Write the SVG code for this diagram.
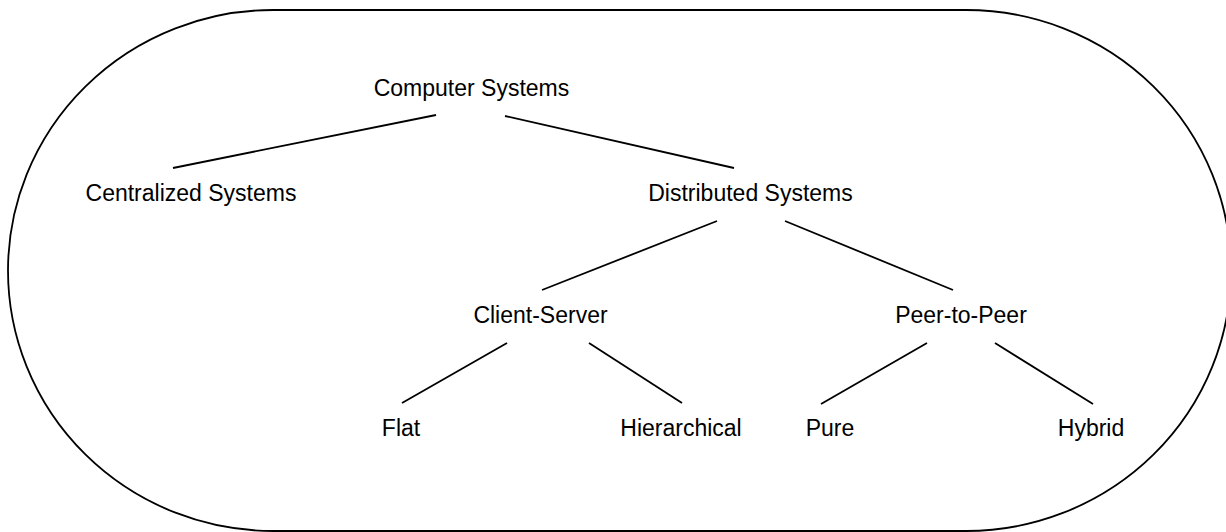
<svg xmlns="http://www.w3.org/2000/svg" width="1226" height="532" viewBox="0 0 1226 532">
  <style>
    .lbl { font-family: "Liberation Sans", Arial, sans-serif; font-size: 23px; fill: #000; text-anchor: middle; }
    .edge { stroke: #000; stroke-width: 1.8; fill: none; stroke-linecap: butt; }
    .frame { stroke: #000; stroke-width: 1.8; fill: #fff; }
  </style>
  <rect width="1226" height="532" fill="#fff"/>
  <!-- rounded outer boundary -->
  <rect id="frame" class="frame" x="8" y="10" width="1223" height="521" rx="265" ry="260.5"/>

  <g id="connectors">
    <line class="edge" x1="436" y1="115" x2="173" y2="168"/>
    <line class="edge" x1="505" y1="116" x2="734" y2="168"/>
    <line class="edge" x1="717" y1="221" x2="542" y2="290"/>
    <line class="edge" x1="785" y1="221" x2="953" y2="290"/>
    <line class="edge" x1="507" y1="343" x2="402" y2="403"/>
    <line class="edge" x1="589" y1="343" x2="682" y2="403"/>
    <line class="edge" x1="927" y1="343" x2="821" y2="404"/>
    <line class="edge" x1="995" y1="343" x2="1093" y2="404"/>
  </g>

  <g id="computer-systems"><text class="lbl" x="471.5" y="96">Computer Systems</text></g>
  <g id="centralized-systems"><text class="lbl" x="191" y="201">Centralized Systems</text></g>
  <g id="distributed-systems"><text class="lbl" x="750.5" y="201">Distributed Systems</text></g>
  <g id="client-server"><text class="lbl" x="540.5" y="323">Client-Server</text></g>
  <g id="peer-to-peer"><text class="lbl" x="961" y="323">Peer-to-Peer</text></g>
  <g id="flat"><text class="lbl" x="401" y="436">Flat</text></g>
  <g id="hierarchical"><text class="lbl" x="681" y="436">Hierarchical</text></g>
  <g id="pure"><text class="lbl" x="830" y="436">Pure</text></g>
  <g id="hybrid"><text class="lbl" x="1091" y="436">Hybrid</text></g>
</svg>
